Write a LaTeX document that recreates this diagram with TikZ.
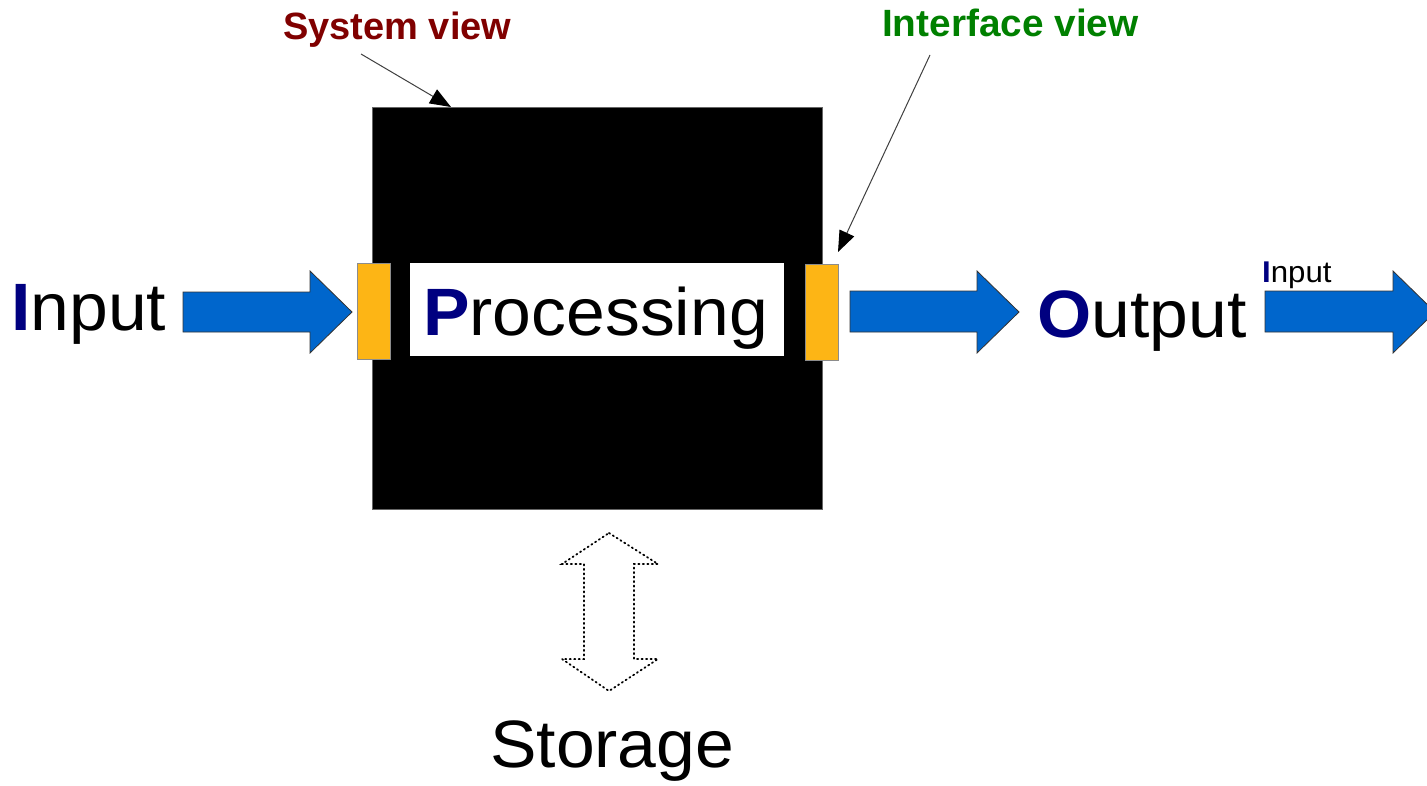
\documentclass[tikz,border=0pt]{standalone}
\usepackage{fontspec}
\setmainfont{Liberation Sans}
\usetikzlibrary{arrows.meta,calc}
\definecolor{iblue}{RGB}{0,0,128}
\definecolor{arrblue}{RGB}{0,102,204}
\definecolor{iforange}{RGB}{253,181,21}
\definecolor{sysred}{RGB}{128,0,0}
\definecolor{ifgreen}{RGB}{0,128,0}
\newcommand{\wide}[1]{\scalebox{1.04}[1]{#1}}
\tikzset{
  big/.style={inner sep=0pt,anchor=base west,font=\fontsize{67}{67}\selectfont},
  title/.style={inner sep=0pt,anchor=base west,font=\bfseries\fontsize{38}{38}\selectfont},
  blockarrow/.style={fill=arrblue,draw=black!80,line width=0.8pt,line join=miter},
  ifbox/.style={rectangle,fill=iforange,draw=black!45,line width=0.8pt,minimum width=33pt,minimum height=96pt,inner sep=0pt},
  callout/.style={draw=black!75,line width=1pt,-{Triangle[length=21pt,width=16pt,color=black]}},
  storearrow/.style={draw=black,line width=1.8pt,dash pattern=on 1.2pt off 3.3pt,line cap=round,line join=miter}
}
\begin{document}
\begin{tikzpicture}[x=1pt,y=-1pt]
\path[use as bounding box,clip] (0,0) rectangle (1427,785);
\fill[white] (0,0) rectangle (1427,785);
% system box
\node[rectangle,fill=black,draw=black!60,line width=0.8pt,minimum width=450pt,minimum height=402pt,inner sep=0pt] (sys) at (597,308) {};
\node[rectangle,fill=white,minimum width=374pt,minimum height=93pt,inner sep=0pt] (proc) at (597,309.5) {};
\node[big] (ptext) at (423,335) {\wide{\textcolor{iblue}{\bfseries P}rocessing}};
% interface boxes
\node[ifbox] (ifl) at (374,311.5) {};
\node[ifbox] (ifr) at (821.5,312) {};
% input
\node[big] (in) at (11,330) {\wide{\textcolor{iblue}{\bfseries I}nput}};
\draw[blockarrow] (183,292) -- (310,292) -- (310,271) -- (352,312) -- (310,353) -- (310,332) -- (183,332) -- cycle;
% output
\draw[blockarrow] (850,291) -- (977,291) -- (977,271) -- (1019,312) -- (977,353) -- (977,332) -- (850,332) -- cycle;
\node[big] (out) at (1037,337) {\wide{\textcolor{iblue}{\bfseries O}utput}};
\node[inner sep=0pt,anchor=base west,font=\fontsize{30}{30}\selectfont] (in2) at (1262,282) {\wide{\textcolor{iblue}{\bfseries I}nput}};
\draw[blockarrow] (1265,291) -- (1393,291) -- (1393,271) -- (1435,312) -- (1393,353) -- (1393,332) -- (1265,332) -- cycle;
% storage
\draw[storearrow] (609,533) -- (658,564) -- (634,564) -- (634,659) -- (658,659) -- (609,691) -- (562,659) -- (584,659) -- (584,564) -- (562,564) -- cycle;
\node[big] (store) at (490,767) {\wide{Storage}};
% titles
\node[title,text=sysred] (sv) at (283,39) {System view};
\node[title,text=ifgreen] (iv) at (882,36) {\scalebox{1.02}[1]{Interface view}};
\coordinate (svs) at (361,54);
\coordinate (svt) at (451,107);
\coordinate (ivs) at (930,55);
\coordinate (ivt) at (838,252);
\draw[callout] (svs) -- (svt);
\draw[callout] (ivs) -- (ivt);
\end{tikzpicture}
\end{document}
